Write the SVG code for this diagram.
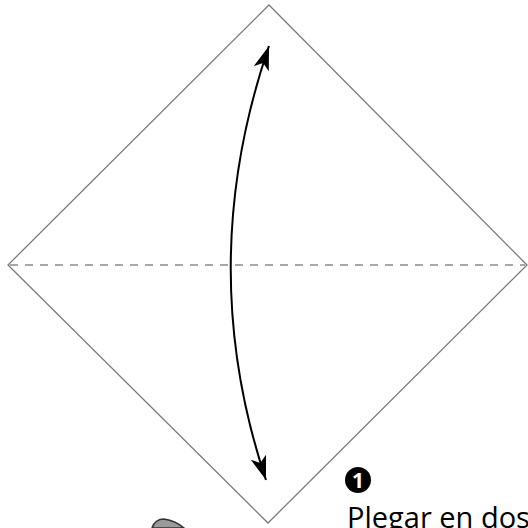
<svg xmlns="http://www.w3.org/2000/svg" width="528" height="528" viewBox="0 0 528 528">
<style>
.paper{fill:none;stroke:#7a7a7a;stroke-width:1.3}
.fold{stroke:#8a8a8a;stroke-width:1.3;stroke-dasharray:8 7}
.arc{fill:none;stroke:#000;stroke-width:2}
.txt{font-family:"Open Sans","Noto Sans",sans-serif;fill:#000}
</style>
<defs>
<marker id="ah" viewBox="0 0 24 16" refX="24" refY="8" markerWidth="24" markerHeight="16" markerUnits="userSpaceOnUse" orient="auto-start-reverse">
<path d="M0,0 L24,8 L0,16 L6,8 Z" fill="#000"/>
</marker>
</defs>
<g id="square">
<polygon class="paper" points="269,5 527,265 268,523 8,265"/>
</g>
<g id="connectors">
<line class="fold" x1="10" y1="265" x2="525" y2="265"/>
<path class="arc" d="M269,46 Q194,265 266,480" marker-start="url(#ah)" marker-end="url(#ah)"/>
</g>
<g id="next-fragment">
<path d="M152,528 Q155,519 164,519 Q176,521 184,528 Z" fill="#9a9a9a" stroke="#333" stroke-width="1.5"/>
</g>
<g id="step1">
<circle cx="358" cy="480" r="13" fill="#000"/>
<text class="txt" x="358" y="488" font-size="21" font-weight="bold" text-anchor="middle" style="fill:#fff">1</text>
<text class="txt" x="347" y="528" font-size="29">Plegar en dos</text>
</g>
</svg>
